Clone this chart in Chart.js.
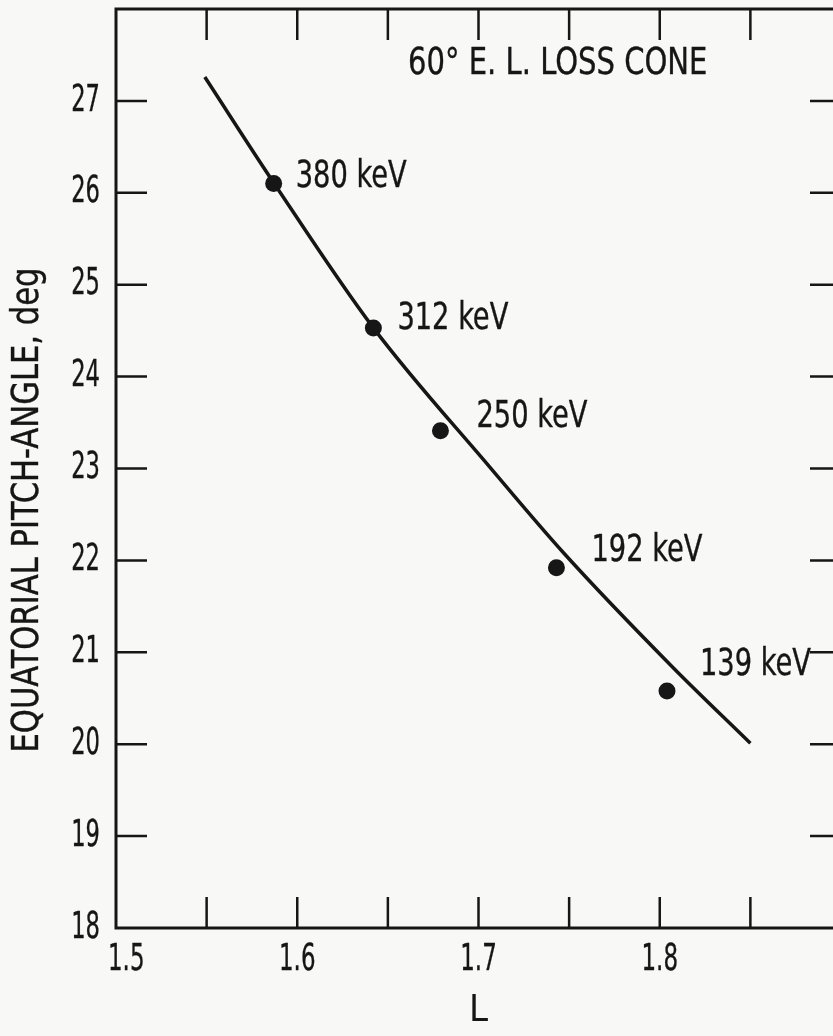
<!DOCTYPE html>
<html>
<head>
<meta charset="utf-8">
<style>
  html, body { margin: 0; padding: 0; background: #f8f8f6; overflow: hidden; width: 833px; height: 1036px; }
  #wrap { position: absolute; left: 0; top: 0; width: 860px; height: 1036px; }
</style>
<script src="https://cdn.jsdelivr.net/npm/chart.js@4/dist/chart.umd.min.js"></script>
</head>
<body>
<div id="wrap"><canvas id="chart"></canvas></div>
<script>
// Measured loss-cone points: energy, L shell, equatorial pitch angle (deg)
const energyLabels = ['380 keV', '312 keV', '250 keV', '192 keV', '139 keV'];
const shellL       = [1.587, 1.642, 1.679, 1.743, 1.804];
const pitchAngle   = [26.10, 24.53, 23.41, 21.92, 20.58];

// Fitted loss-cone curve
const curveL     = [1.549, 1.587, 1.642, 1.706, 1.747, 1.807, 1.850];
const curveAngle = [27.26, 26.11, 24.53, 23.02, 22.08, 20.84, 20.01];

// Axis ranges and labelled ticks
const xRange = [1.5, 1.9];
const yRange = [18, 28];
const xTickLabels = ['1.5', '1.6', '1.7', '1.8'];
const yTickLabels = ['18', '19', '20', '21', '22', '23', '24', '25', '26', '27'];

const INK = '#161616';
const FONT = "'DejaVu Sans Condensed', 'DejaVu Sans', sans-serif";

// label placement relative to each point (left edge, vertical centre)
const labelOffsets = [[22, -6], [24, -9], [36, -13], [35, -16], [33, -26]];

const TICK = 31;

// narrow lettering: text squeezed horizontally
function squeezed(ctx, text, x, y, sx, align) {
  ctx.save();
  ctx.translate(x, y);
  ctx.scale(sx, 1);
  ctx.textAlign = align;
  ctx.lineWidth = 0.35;
  ctx.strokeStyle = INK;
  ctx.fillText(text, 0, 0);
  ctx.strokeText(text, 0, 0);
  ctx.restore();
}

const framePlugin = {
  id: 'frame',
  beforeDatasetsDraw(chart) {
    const { ctx, chartArea: a, scales: { x, y } } = chart;
    ctx.save();
    ctx.strokeStyle = INK;
    ctx.lineWidth = 3;
    ctx.lineCap = 'square';
    ctx.strokeRect(a.left, a.top, a.right - a.left, a.bottom - a.top);
    ctx.lineWidth = 2.5;
    ctx.lineCap = 'butt';
    x.ticks.forEach(t => {
      if (t.value <= xRange[0] + 1e-6 || t.value >= xRange[1] - 1e-6) return;
      const px = x.getPixelForValue(t.value);
      ctx.beginPath();
      ctx.moveTo(px, a.bottom); ctx.lineTo(px, a.bottom - TICK);
      ctx.moveTo(px, a.top); ctx.lineTo(px, a.top + TICK);
      ctx.stroke();
    });
    y.ticks.forEach(t => {
      if (t.value <= yRange[0] || t.value >= yRange[1]) return;
      const py = y.getPixelForValue(t.value);
      ctx.beginPath();
      ctx.moveTo(a.left, py); ctx.lineTo(a.left + TICK, py);
      ctx.moveTo(a.right, py); ctx.lineTo(a.right - TICK, py);
      ctx.stroke();
    });

    // tick labels
    ctx.fillStyle = INK;
    ctx.textBaseline = 'middle';
    ctx.font = '37px ' + FONT;
    xTickLabels.forEach((s, i) => {
      const px = x.getPixelForValue(parseFloat(s));
      if (i === 0) squeezed(ctx, s, px - 8, a.bottom + 32, 0.69, 'left');
      else squeezed(ctx, s, px, a.bottom + 32, 0.69, 'center');
    });
    yTickLabels.forEach(s => {
      squeezed(ctx, s, a.left - 16, y.getPixelForValue(parseFloat(s)), 0.68, 'right');
    });
    ctx.restore();
  }
};

const textPlugin = {
  id: 'texts',
  afterDatasetsDraw(chart) {
    const { ctx } = chart;
    ctx.save();
    ctx.fillStyle = INK;
    ctx.textBaseline = 'middle';

    // energy labels beside the measured points
    ctx.font = '37px ' + FONT;
    const pts = chart.getDatasetMeta(1).data;
    pts.forEach((p, i) => {
      const [dx, dy] = labelOffsets[i];
      squeezed(ctx, energyLabels[i], p.x + dx, p.y + dy, 0.82, 'left');
    });

    // panel caption
    ctx.font = '38px ' + FONT;
    squeezed(ctx, '60° E. L. LOSS CONE', 408, 64, 0.85, 'left');

    // vertical axis title
    ctx.font = '37px ' + FONT;
    ctx.translate(28, 510);
    ctx.rotate(-Math.PI / 2);
    squeezed(ctx, 'EQUATORIAL PITCH-ANGLE, deg', 0, 0, 0.92, 'center');
    ctx.restore();
  }
};

new Chart(document.getElementById('chart'), {
  type: 'scatter',
  data: {
    datasets: [
      {
        data: curveL.map((v, i) => ({ x: v, y: curveAngle[i] })),
        showLine: true,
        borderColor: INK,
        borderWidth: 3.5,
        pointRadius: 0,
        cubicInterpolationMode: 'monotone',
        fill: false
      },
      {
        data: shellL.map((v, i) => ({ x: v, y: pitchAngle[i] })),
        showLine: false,
        pointRadius: 8.5,
        pointBackgroundColor: INK,
        pointBorderWidth: 0
      }
    ]
  },
  options: {
    responsive: true,
    maintainAspectRatio: false,
    animation: false,
    layout: { padding: { top: 9, right: 19, left: 0, bottom: 0 } },
    plugins: { legend: { display: false }, tooltip: { enabled: false } },
    scales: {
      x: {
        type: 'linear',
        min: xRange[0],
        max: xRange[1],
        grid: { display: false },
        border: { display: false },
        afterFit(s) { s.height = 108; s.paddingLeft = 0; s.paddingRight = 0; },
        ticks: { display: false, stepSize: 0.05, autoSkip: false },
        title: {
          display: true,
          text: 'L',
          color: INK,
          font: { family: FONT, size: 38 },
          padding: { top: 0, bottom: 2 }
        }
      },
      y: {
        type: 'linear',
        min: yRange[0],
        max: yRange[1],
        grid: { display: false },
        border: { display: false },
        afterFit(s) { s.width = 116; s.paddingTop = 0; s.paddingBottom = 0; },
        ticks: { display: false, stepSize: 1 }
      }
    }
  },
  plugins: [framePlugin, textPlugin]
});
</script>
</body>
</html>
